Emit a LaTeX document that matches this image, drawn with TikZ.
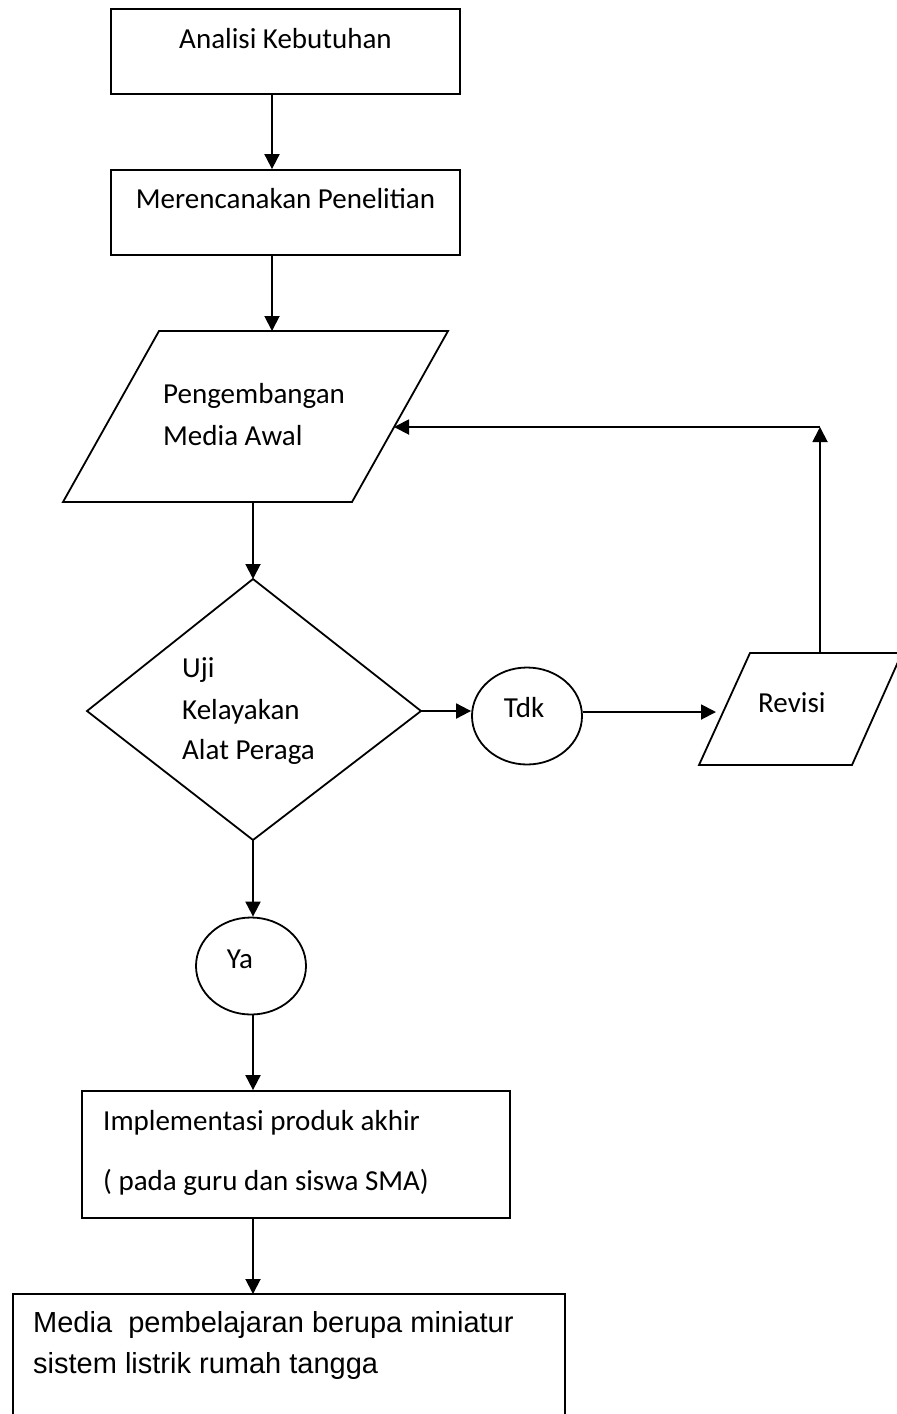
\documentclass[tikz,border=0pt]{standalone}
\usepackage{fontspec}
\setmainfont{Carlito}
\newfontfamily\arialf{Liberation Sans}
\usetikzlibrary{arrows.meta,shapes.geometric}
\begin{document}
\begin{tikzpicture}[x=1pt,y=-1pt,
  outline/.style={draw,line width=1.8pt,line join=miter},
  box/.style={outline,inner sep=0pt,rectangle},
  oval/.style={outline,inner sep=0pt,ellipse},
  arr/.style={line width=1.9pt,-{Triangle[length=15pt,width=15pt]}},
  lbl/.style={inner sep=0pt,anchor=base,font=\fontsize{29}{35}\selectfont},
  lbll/.style={lbl,anchor=base west},
  albl/.style={inner sep=0pt,anchor=base west,font=\arialf\fontsize{29}{35}\selectfont},
  ]
\useasboundingbox (0,0) rectangle (897,1414);

% Analisi Kebutuhan
\node[box,minimum width=349pt,minimum height=85pt] (analisi) at (285.5,51.5) {};
\node[lbl] (analisiT) at (285.5,48) {Analisi Kebutuhan};

% Merencanakan Penelitian
\node[box,minimum width=349pt,minimum height=85pt] (rencana) at (285.5,212.5) {};
\node[lbl] (rencanaT) at (285.5,208) {Merencanakan Penelitian};

% Pengembangan Media Awal (parallelogram)
\coordinate (pTop) at (272,331);
\coordinate (pBot) at (253,502);
\coordinate (pRight) at (394,427);
\draw[outline] (159,331) -- (448,331) -- (352,502) -- (63,502) -- cycle;
\node[lbll] (pengT1) at (163,403) {Pengembangan};
\node[lbll] (pengT2) at (163,445) {Media Awal};

% Decision diamond
\coordinate (dTop) at (253,579);
\coordinate (dRight) at (421,711);
\coordinate (dBot) at (253,840);
\coordinate (dLeft) at (87,711);
\draw[outline] (dTop) -- (dRight) -- (dBot) -- (dLeft) -- cycle;
\node[lbll] (ujiT1) at (182,677) {Uji};
\node[lbll] (ujiT2) at (182,719) {Kelayakan};
\node[lbll] (ujiT3) at (182,759) {Alat Peraga};

% Tdk
\node[oval,minimum width=110pt,minimum height=97pt] (tdk) at (527,716) {};
\node[lbl] (tdkT) at (524,717) {Tdk};

% Revisi (parallelogram)
\coordinate (rTop) at (820,653);
\coordinate (rLeft) at (716,712);
\draw[outline] (750,653) -- (902,653) -- (852,765) -- (699,765) -- cycle;
\node[lbll] (revT) at (758,712) {Revisi};
\coordinate (corner) at (820,427);

% Ya
\node[oval,minimum width=110pt,minimum height=97pt] (ya) at (251,966) {};
\node[lbl] (yaT) at (240,968) {Ya};

% Implementasi
\node[box,minimum width=428pt,minimum height=127pt] (impl) at (296,1154.5) {};
\node[lbll] (implT1) at (103,1130) {Implementasi produk akhir};
\node[lbll] (implT2) at (103,1190) {( pada guru dan siswa SMA)};

% Media (box open at the bottom edge of the picture)
\coordinate (mTop) at (253,1294);
\draw[outline] (13,1414) -- (13,1294) -- (565,1294) -- (565,1414);
\node[albl] (mediaT1) at (33,1332) {Media\ \ pembelajaran berupa miniatur};
\node[albl] (mediaT2) at (33,1373) {sistem listrik rumah tangga};

% connectors
\draw[arr] ([xshift=-13.5pt]analisi.south) -- ([xshift=-13.5pt]rencana.north);
\draw[arr] ([xshift=-13.5pt]rencana.south) -- (pTop);
\draw[arr] (pBot) -- (dTop);
\draw[arr] (dRight) -- (dRight -| tdk.west);
\draw[arr] (tdk.east |- rLeft) -- (rLeft);
\draw[arr] (rTop) -- (corner);
\draw[arr] (corner) -- (pRight);
\draw[arr] (dBot) -- (ya.north -| dBot);
\draw[arr] (ya.south -| dBot) -- (impl.north -| dBot);
\draw[arr] (impl.south -| dBot) -- (mTop);
\end{tikzpicture}
\end{document}
